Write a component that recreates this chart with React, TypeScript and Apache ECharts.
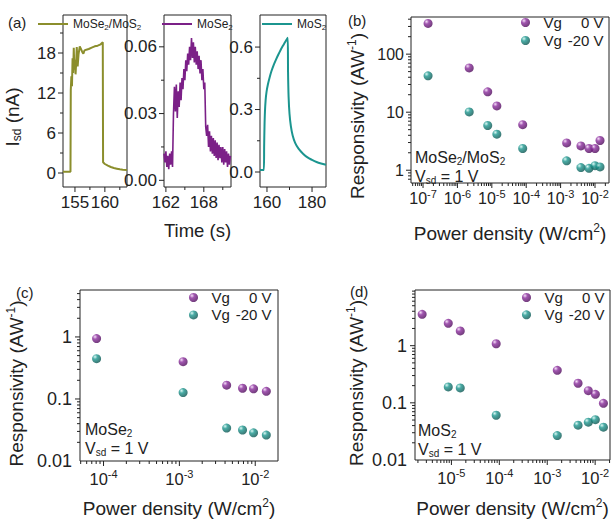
import React, { useEffect, useRef } from "react";
import * as echarts from "echarts";

const FONT = '"Liberation Sans", Arial, Helvetica, sans-serif';
const INK = "#222222";
const OLIVE = "#8b8e2c";
const PURPLE_LINE = "#7b2087";
const TEAL_LINE = "#1b958f";

// ---------- (a) transient photocurrent traces ----------
const heteroTime = [153.0, 154.25, 154.3, 154.4, 154.5, 154.6, 154.7, 154.8, 154.9, 155.0, 155.1, 155.2, 155.3, 155.45, 155.6, 155.8, 156.0, 156.2, 156.4, 156.6, 156.9, 157.3, 157.8, 158.3, 158.8, 159.3, 159.65, 159.7, 160.0, 160.5, 161.0, 161.5, 162.0, 162.5, 163.0, 163.7];
const heteroCurrent = [0.2, 0.2, 12.4, 14.5, 13.0, 17.2, 15.0, 18.8, 15.5, 17.0, 14.8, 16.5, 18.9, 16.0, 17.8, 19.0, 18.6, 18.2, 17.9, 18.4, 18.5, 18.6, 18.8, 19.0, 19.1, 19.3, 19.6, 1.6, 1.35, 1.1, 0.9, 0.75, 0.65, 0.55, 0.5, 0.45];

const mose2Time = [
  161.7, 161.85, 162.0, 162.15, 162.3, 162.45, 162.6, 162.75, 162.9, 163.05,
  163.2, 163.35, 163.5, 163.65, 163.8, 163.95, 164.1, 164.25, 164.4, 164.55,
  164.7, 164.85, 165.0, 165.15, 165.3, 165.45, 165.6, 165.75, 165.9, 166.05,
  166.2, 166.35, 166.5, 166.65, 166.8, 166.95, 167.1, 167.25, 167.4, 167.55,
  167.7, 167.85, 168.0, 168.15, 168.3, 168.45, 168.6, 168.75, 168.9, 169.05,
  169.2, 169.35, 169.5, 169.65, 169.8, 169.95, 170.1, 170.25, 170.4, 170.55,
  170.7, 170.85, 171.0, 171.15, 171.3, 171.45, 171.6, 171.75, 171.9, 172.05,
  172.2,
];
const mose2Current = [
  0.012, 0.008, 0.013, 0.006, 0.011, 0.005, 0.012, 0.007, 0.013, 0.006,
  0.030, 0.042, 0.031, 0.043, 0.028, 0.040, 0.033, 0.044, 0.036, 0.046,
  0.041, 0.050, 0.045, 0.054, 0.049, 0.057, 0.052, 0.060, 0.054, 0.064,
  0.055, 0.062, 0.053, 0.060, 0.052, 0.058, 0.050, 0.056, 0.048, 0.054,
  0.045, 0.050, 0.041, 0.044, 0.024, 0.020, 0.025, 0.015, 0.022, 0.013,
  0.020, 0.012, 0.019, 0.011, 0.018, 0.010, 0.017, 0.009, 0.016, 0.010,
  0.015, 0.008, 0.015, 0.007, 0.014, 0.008, 0.013, 0.006, 0.012, 0.007,
  0.011,
];

const mos2Time = [156.9, 158.6, 158.75, 158.9, 159.1, 159.4, 159.8, 160.4, 161.2, 162.0, 163.0, 164.0, 165.0, 166.0, 167.0, 168.0, 169.2, 169.35, 169.6, 170.0, 170.6, 171.4, 172.5, 174.0, 176.0, 178.0, 180.0, 182.0, 184.0, 186.2];
const mos2Current = [0.01, 0.01, 0.13, 0.22, 0.29, 0.345, 0.385, 0.42, 0.455, 0.485, 0.515, 0.54, 0.563, 0.585, 0.605, 0.623, 0.645, 0.48, 0.36, 0.28, 0.22, 0.175, 0.14, 0.112, 0.088, 0.07, 0.058, 0.048, 0.041, 0.035];

// tick values of panel (a)
const heteroTimeTicks = [155, 160];
const heteroTimeMinor = [157.5, 162.5];
const heteroCurrentTicks = [0, 6, 12, 18];
const heteroCurrentMinor = [3, 9, 15, 21];
const mose2TimeTicks = [162, 168];
const mose2TimeMinor = [165, 171];
const mose2CurrentTicks = [0, 0.03, 0.06];
const mose2CurrentMinor = [0.015, 0.045];
const mos2TimeTicks = [160, 180];
const mos2TimeMinor = [170];
const mos2CurrentTicks = [0, 0.3, 0.6];
const mos2CurrentMinor = [0.15, 0.45];

// ---------- (b) MoSe2/MoS2 responsivity ----------
const hetPower = [1.4e-7, 2.2e-6, 7.6e-6, 1.4e-5, 7.9e-5, 1.5e-3, 3.9e-3, 6.7e-3, 1.0e-2, 1.4e-2];
const hetR0 = [338, 58, 22.4, 12.8, 6.1, 2.96, 2.62, 2.37, 2.37, 3.25];
const hetR20 = [42.3, 10.1, 5.9, 4.18, 2.37, 1.45, 1.11, 1.08, 1.2, 1.14];

// ---------- (c) MoSe2 responsivity ----------
const mose2Power = [8.1e-5, 1.12e-3, 4.2e-3, 6.8e-3, 9.5e-3, 1.4e-2];
const mose2R0 = [0.94, 0.40, 0.167, 0.149, 0.146, 0.133];
const mose2R20 = [0.447, 0.127, 0.034, 0.0316, 0.0285, 0.0262];

// ---------- (d) MoS2 responsivity ----------
const mos2Power0 = [2.45e-6, 8.6e-6, 1.53e-5, 8.6e-5, 1.62e-3, 4.4e-3, 7.2e-3, 1.01e-2, 1.49e-2];
const mos2R0 = [3.54, 2.46, 1.81, 1.08, 0.371, 0.22, 0.163, 0.141, 0.098];
const mos2Power20 = [8.6e-6, 1.53e-5, 8.6e-5, 1.62e-3, 4.4e-3, 7.2e-3, 1.01e-2, 1.49e-2];
const mos2R20 = [0.19, 0.182, 0.0607, 0.0267, 0.0406, 0.0458, 0.0508, 0.0375];

const legendNames = ["Vg 0 V", "Vg -20 V"];

// axis ranges
const bX = [Math.pow(10, -7.35), Math.pow(10, -1.593)];
const bY = [Math.pow(10, -0.22), Math.pow(10, 2.64)];
const cX = [Math.pow(10, -4.31), Math.pow(10, -1.7)];
const cY = [0.01, Math.pow(10, 0.757)];
const dX = [Math.pow(10, -5.76), Math.pow(10, -1.69)];
const dY = [0.01, Math.pow(10, 0.974)];

const zip = (xs: number[], ys: number[]) => xs.map((x, i) => [x, ys[i]]);

function logTicks(min: number, max: number) {
  const majors: number[] = [];
  const minors: number[] = [];
  for (let e = Math.floor(Math.log10(min)); e <= Math.ceil(Math.log10(max)); e++) {
    for (let k = 1; k <= 9; k++) {
      const v = k * Math.pow(10, e);
      if (v < min * 1.0001 || v > max * 0.9999) continue;
      (k === 1 ? majors : minors).push(v);
    }
  }
  return { majors, minors };
}

function tickSeries(g: number, dir: "x" | "y", majors: number[], minors: number[], ref: number) {
  const mk = (v: number, m: number) => (dir === "x" ? [v, ref, m] : [ref, v, m]);
  return {
    type: "custom",
    xAxisIndex: g,
    yAxisIndex: g,
    silent: true,
    clip: false,
    z: 5,
    data: [...majors.map((v) => mk(v, 1)), ...minors.map((v) => mk(v, 0))],
    renderItem: (params: any, api: any) => {
      const cs = params.coordSys;
      const p = api.coord([api.value(0), api.value(1)]);
      const len = api.value(2) ? 5 : 3;
      if (dir === "x") {
        const y0 = cs.y + cs.height;
        return { type: "line", shape: { x1: p[0], y1: y0, x2: p[0], y2: y0 + len }, style: { stroke: INK, lineWidth: 1 } };
      }
      const x0 = cs.x;
      return { type: "line", shape: { x1: x0 - len, y1: p[1], x2: x0, y2: p[1] }, style: { stroke: INK, lineWidth: 1 } };
    },
  };
}

const tRich = (size: number) => ({
  n: { fontSize: size, fontFamily: FONT, color: INK },
  s: { fontSize: Math.round(size * 0.62), fontFamily: FONT, color: INK, padding: [0, 0, Math.round(size * 0.6), 0] },
  d: { fontSize: Math.round(size * 0.62), fontFamily: FONT, color: INK, padding: [Math.round(size * 0.5), 0, 0, 0] },
});

const sub2 = (s: string, tag = "n") =>
  s
    .split("2")
    .map((p, i, arr) => (p ? `{${tag}|${p}}` : "") + (i < arr.length - 1 ? "{d|2}" : ""))
    .join("");

const logLabelX = (v: number) => {
  const e = Math.log10(v);
  const r = Math.round(e);
  if (Math.abs(e - r) > 1e-6) return "";
  return `{b|10}{s|${r}}`;
};
const logLabelY = (v: number) => {
  const e = Math.log10(v);
  const r = Math.round(e);
  if (Math.abs(e - r) > 1e-6) return "";
  return r >= 0 ? String(Math.pow(10, r)) : Math.pow(10, r).toFixed(-r);
};

const xLogRich = (size: number, sup: number, lift: number) => ({
  b: { fontSize: size, fontFamily: FONT, color: INK },
  s: { fontSize: sup, fontFamily: FONT, color: INK, padding: [0, 0, lift, 0] },
});

function linAxis(g: number, min: number, max: number, ticks: number[], fmt: (v: number) => string, extra: any = {}) {
  return {
    type: "value",
    gridIndex: g,
    min,
    max,
    axisLine: { show: false },
    axisTick: { show: false },
    splitLine: { show: false },
    axisLabel: { customValues: ticks, formatter: fmt, fontSize: 17, fontFamily: FONT, color: INK, margin: 7 },
    nameMoveOverlap: false,
    ...extra,
  };
}

function logAxis(g: number, range: number[], fmt: (v: number) => string, label: any, extra: any = {}) {
  return {
    type: "log",
    logBase: 10,
    gridIndex: g,
    min: range[0],
    max: range[1],
    axisLine: { show: false },
    axisTick: { show: false },
    splitLine: { show: false },
    minorTick: { show: false },
    axisLabel: { formatter: fmt, fontFamily: FONT, color: INK, ...label },
    nameMoveOverlap: false,
    ...extra,
  };
}

function sphere(hi: string, mid: string, lo: string) {
  return new echarts.graphic.RadialGradient(0.33, 0.3, 0.75, [
    { offset: 0, color: hi },
    { offset: 0.35, color: mid },
    { offset: 1, color: lo },
  ]);
}

function scatter(g: number, name: string, xs: number[], ys: number[], purple: boolean) {
  return {
    type: "scatter",
    name,
    xAxisIndex: g,
    yAxisIndex: g,
    symbol: "circle",
    symbolSize: 9,
    data: zip(xs, ys),
    itemStyle: {
      color: purple ? sphere("#f2d6f6", "#8a2c9c", "#4c0a58") : sphere("#d2f6f1", "#1c978f", "#0a514d"),
    },
    z: 3,
  };
}

function vgLegend(left: number, top: number, gap: number) {
  return {
    data: legendNames,
    orient: "vertical",
    left,
    top,
    padding: 0,
    itemWidth: 22,
    itemHeight: 9,
    itemGap: gap,
    selectedMode: false,
    formatter: (name: string) => (name === "Vg 0 V" ? "{v|Vg}{n|0 V}" : "{v|Vg}{n|-20 V}"),
    textStyle: {
      rich: {
        v: { fontSize: 15, fontFamily: FONT, color: INK, width: 22, padding: [0, 0, 0, 2], lineHeight: 16 },
        n: { fontSize: 15, fontFamily: FONT, color: INK, width: 38, align: "right", lineHeight: 16 },
      },
    },
  };
}

function lineLegend(name: string, left: number) {
  return {
    data: [{ name, icon: "rect" }],
    left,
    top: 18,
    padding: 0,
    itemWidth: 30,
    itemHeight: 2,
    selectedMode: false,
    formatter: (n: string) => sub2(n),
    textStyle: {
      rich: {
        n: { fontSize: 12, fontFamily: FONT, color: INK },
        d: { fontSize: 8, fontFamily: FONT, color: INK, padding: [6, 0, 0, 0] },
      },
    },
  };
}

function note(x: number, y: number, rich: string, size = 16) {
  return {
    type: "text",
    x,
    y,
    z: 10,
    style: { text: rich, rich: tRich(size), fontSize: size, fontFamily: FONT, fill: INK, align: "left", verticalAlign: "top" },
  };
}
function panelLabel(x: number, y: number, t: string) {
  return {
    type: "text",
    x,
    y,
    z: 10,
    style: { text: t, fontSize: 15, fontFamily: FONT, fill: INK, align: "left", verticalAlign: "top" },
  };
}

function gridBox(left: number, top: number, width: number, height: number) {
  return { left, top, width, height, show: true, borderColor: INK, borderWidth: 1, backgroundColor: "transparent", containLabel: false, outerBoundsMode: "none" };
}

export default function App() {
  const ref = useRef<HTMLDivElement>(null);

  useEffect(() => {
    if (!ref.current) return;
    const chart = echarts.init(ref.current, undefined, { renderer: "svg" });

    const bT = logTicks(bX[0], bX[1]);
    const bYT = logTicks(bY[0], bY[1]);
    const cT = logTicks(cX[0], cX[1]);
    const cYT = logTicks(cY[0], cY[1]);
    const dT = logTicks(dX[0], dX[1]);
    const dYT = logTicks(dY[0], dY[1]);

    const respName = "{n|Responsivity (AW}{s|-1}{n|)}";
    const powerName = "{n|Power density (W/cm}{s|2}{n|)}";

    const option: any = {
      animation: false,
      backgroundColor: "#ffffff",
      textStyle: { fontFamily: FONT },
      grid: [
        gridBox(63, 15, 64, 172),
        gridBox(164, 15, 67, 172),
        gridBox(260, 15, 66, 172),
        gridBox(411, 17, 198, 166),
        gridBox(80, 290, 198, 171),
        gridBox(415, 290, 195, 170),
      ],
      xAxis: [
        linAxis(0, 153, 163.7, heteroTimeTicks, (v) => String(v)),
        linAxis(1, 161.7, 172.3, mose2TimeTicks, (v) => String(v), {
          name: "Time (s)",
          nameLocation: "middle",
          nameGap: 34,
          nameTextStyle: { fontSize: 18.5, fontFamily: FONT, color: INK },
        }),
        linAxis(2, 156.9, 186.2, mos2TimeTicks, (v) => String(v)),
        logAxis(3, bX, logLabelX, { rich: xLogRich(16, 11, 9), margin: 5 }, {
          name: powerName,
          nameLocation: "middle",
          nameGap: 39,
          nameTextStyle: { rich: tRich(19) },
        }),
        logAxis(4, cX, logLabelX, { rich: xLogRich(16.5, 11, 10), margin: 7 }, {
          name: powerName,
          nameLocation: "middle",
          nameGap: 36,
          nameTextStyle: { rich: tRich(19) },
        }),
        logAxis(5, dX, logLabelX, { rich: xLogRich(16.5, 11, 10), margin: 7 }, {
          name: powerName,
          nameLocation: "middle",
          nameGap: 37,
          nameTextStyle: { rich: tRich(19) },
        }),
      ],
      yAxis: [
        linAxis(0, -2.1, 23.7, heteroCurrentTicks, (v) => String(v), {
          name: "{n|I}{d|sd}{n| (nA)}",
          nameLocation: "middle",
          nameGap: 40,
          nameTextStyle: { rich: tRich(19), padding: [0, 32, 0, 0] },
        }),
        linAxis(1, -0.003, 0.0743, mose2CurrentTicks, (v) => v.toFixed(2)),
        linAxis(2, -0.072, 0.754, mos2CurrentTicks, (v) => v.toFixed(1)),
        logAxis(3, bY, logLabelY, { fontSize: 16, margin: 7 }, {
          name: respName,
          nameLocation: "middle",
          nameGap: 42,
          nameTextStyle: { rich: tRich(19), padding: [0, 32, 0, 0] },
        }),
        logAxis(4, cY, logLabelY, { fontSize: 18, margin: 8 }, {
          name: respName,
          nameLocation: "middle",
          nameGap: 52,
          nameTextStyle: { rich: tRich(19), padding: [0, 16, 0, 0] },
        }),
        logAxis(5, dY, logLabelY, { fontSize: 18, margin: 8 }, {
          name: respName,
          nameLocation: "middle",
          nameGap: 47,
          nameTextStyle: { rich: tRich(19), padding: [0, 16, 0, 0] },
        }),
      ],
      legend: [
        lineLegend("MoSe2/MoS2", 38),
        lineLegend("MoSe2", 162),
        lineLegend("MoS2", 262),
        vgLegend(521, 15, 3),
        vgLegend(189, 290, 2.4),
        vgLegend(522, 290, 2.3),
      ],
      graphic: [
        panelLabel(8, 15, "(a)"),
        panelLabel(348, 13, "(b)"),
        panelLabel(16, 285, "(c)"),
        panelLabel(350, 284, "(d)"),
        note(415, 148, sub2("MoSe2/MoS2"), 16),
        note(415, 167, "{n|V}{d|sd}{n| = 1 V}", 16),
        note(85, 420, sub2("MoSe2"), 16),
        note(85, 439, "{n|V}{d|sd}{n| = 1 V}", 16),
        note(418, 421, sub2("MoS2"), 16),
        note(418, 440, "{n|V}{d|sd}{n| = 1 V}", 16),
      ],
      series: [
        { type: "line", name: "MoSe2/MoS2", xAxisIndex: 0, yAxisIndex: 0, data: zip(heteroTime, heteroCurrent), showSymbol: false, symbol: "none", lineStyle: { color: OLIVE, width: 2 }, itemStyle: { color: OLIVE } },
        { type: "line", name: "MoSe2", xAxisIndex: 1, yAxisIndex: 1, data: zip(mose2Time, mose2Current), showSymbol: false, symbol: "none", lineStyle: { color: PURPLE_LINE, width: 1.6 }, itemStyle: { color: PURPLE_LINE } },
        { type: "line", name: "MoS2", xAxisIndex: 2, yAxisIndex: 2, data: zip(mos2Time, mos2Current), showSymbol: false, symbol: "none", smooth: 0.3, lineStyle: { color: TEAL_LINE, width: 2 }, itemStyle: { color: TEAL_LINE } },
        scatter(3, "Vg 0 V", hetPower, hetR0, true),
        scatter(3, "Vg -20 V", hetPower, hetR20, false),
        scatter(4, "Vg 0 V", mose2Power, mose2R0, true),
        scatter(4, "Vg -20 V", mose2Power, mose2R20, false),
        scatter(5, "Vg 0 V", mos2Power0, mos2R0, true),
        scatter(5, "Vg -20 V", mos2Power20, mos2R20, false),
        tickSeries(0, "x", heteroTimeTicks, heteroTimeMinor, 0),
        tickSeries(0, "y", heteroCurrentTicks, heteroCurrentMinor, 155),
        tickSeries(1, "x", mose2TimeTicks, mose2TimeMinor, 0),
        tickSeries(1, "y", mose2CurrentTicks, mose2CurrentMinor, 165),
        tickSeries(2, "x", mos2TimeTicks, mos2TimeMinor, 0),
        tickSeries(2, "y", mos2CurrentTicks, mos2CurrentMinor, 170),
        tickSeries(3, "x", bT.majors, bT.minors, 1),
        tickSeries(3, "y", bYT.majors, bYT.minors, 1e-4),
        tickSeries(4, "x", cT.majors, cT.minors, 0.1),
        tickSeries(4, "y", cYT.majors, cYT.minors, 1e-3),
        tickSeries(5, "x", dT.majors, dT.minors, 0.1),
        tickSeries(5, "y", dYT.majors, dYT.minors, 1e-3),
      ],
    };

    chart.setOption(option);
    return () => chart.dispose();
  }, []);

  return <div ref={ref} style={{ position: "fixed", left: 0, top: 0, width: 611, height: 521, background: "#fff" }} />;
}
